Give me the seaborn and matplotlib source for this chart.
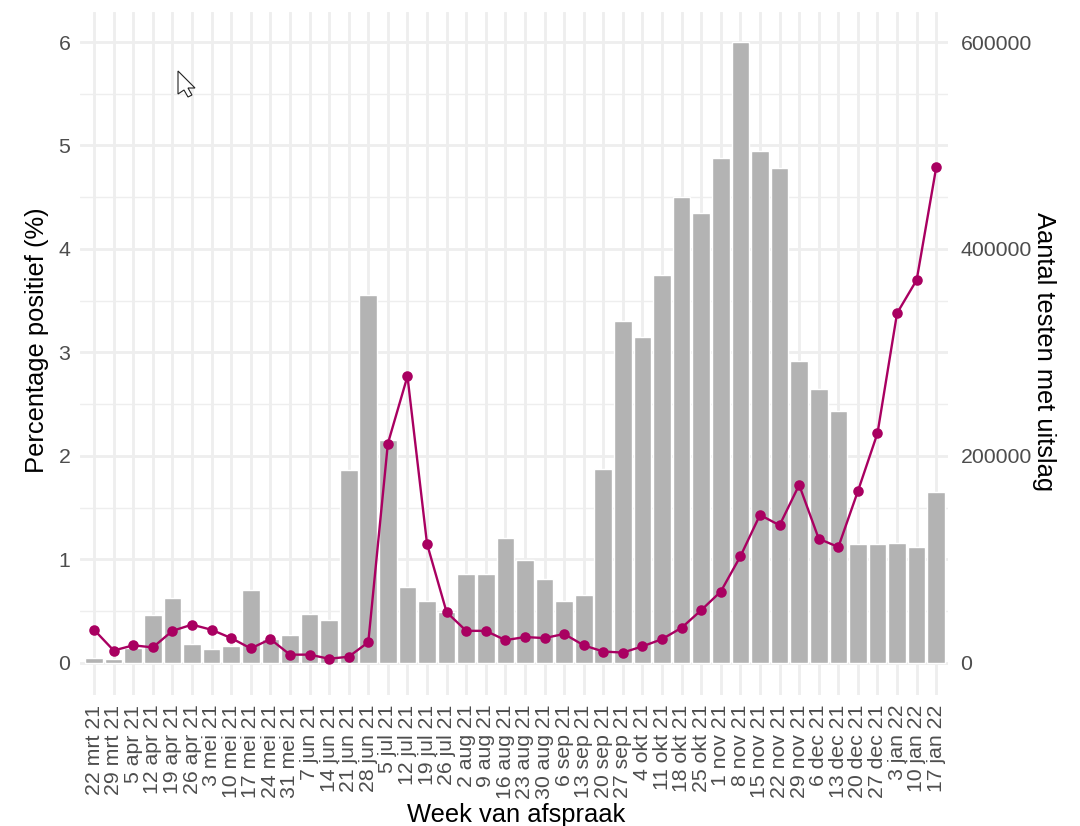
import matplotlib
matplotlib.use("Agg")
import matplotlib.pyplot as plt
from matplotlib.patches import Polygon
from matplotlib.ticker import FixedLocator, MultipleLocator
import seaborn as sns
import pandas as pd

weeks = ["22 mrt 21", "29 mrt 21", "5 apr 21", "12 apr 21", "19 apr 21", "26 apr 21",
         "3 mei 21", "10 mei 21", "17 mei 21", "24 mei 21", "31 mei 21",
         "7 jun 21", "14 jun 21", "21 jun 21", "28 jun 21",
         "5 jul 21", "12 jul 21", "19 jul 21", "26 jul 21",
         "2 aug 21", "9 aug 21", "16 aug 21", "23 aug 21", "30 aug 21",
         "6 sep 21", "13 sep 21", "20 sep 21", "27 sep 21",
         "4 okt 21", "11 okt 21", "18 okt 21", "25 okt 21",
         "1 nov 21", "8 nov 21", "15 nov 21", "22 nov 21", "29 nov 21",
         "6 dec 21", "13 dec 21", "20 dec 21", "27 dec 21",
         "3 jan 22", "10 jan 22", "17 jan 22"]
tests = [5000, 4000, 14500, 46000, 62500, 17800, 13900, 16800, 70600, 23000, 26500,
         47000, 41500, 186000, 356000, 215000, 73500, 60000, 49000, 86000, 86000,
         121000, 99500, 81000, 60000, 65500, 187000, 330000, 315000, 375000, 450000,
         435000, 488000, 600000, 495000, 478000, 292000, 265000, 243000, 115000,
         115000, 116000, 112000, 165000]
pct_pos = [0.32, 0.12, 0.17, 0.15, 0.31, 0.37, 0.32, 0.24, 0.14, 0.23, 0.08,
           0.08, 0.04, 0.06, 0.20, 2.12, 2.77, 1.15, 0.49, 0.31, 0.31,
           0.22, 0.25, 0.24, 0.28, 0.17, 0.11, 0.10, 0.16, 0.23, 0.34,
           0.51, 0.69, 1.03, 1.43, 1.33, 1.72, 1.20, 1.12, 1.66,
           2.22, 3.38, 3.70, 4.79]
test_ticks = [0, 100000, 200000, 300000, 400000, 500000, 600000]
test_labels = ["0", "", "200000", "", "400000", "", "600000"]

sns.set_theme(style="white")
plt.rcParams['font.family'] = ['Liberation Sans', 'DejaVu Sans']

df = pd.DataFrame({"week": weeks, "tests": tests, "pct": pct_pos})
W, H = 1080, 826
grey = "#4D4D4D"
grid = "#EEEEEE"
line_col = "#A90061"

fig = plt.figure(figsize=(W/100, H/100), dpi=100)
ax = fig.add_axes([80/W, 1-695/H, 868/W, 683/H])

# bars live on the axes with the grid, percent line goes on the twin above it
sns.barplot(data=df, x="week", y="tests", color="#B3B3B3", saturation=1, width=0.9, ax=ax)
ax2 = ax.twinx()
sns.lineplot(data=df, x="week", y="pct", sort=False, color=line_col, lw=1.7, marker="o",
             markersize=7.6, markeredgewidth=0, ax=ax2)

ax.set_xlim(-0.72, 43.6)
ax.set_ylim(-31000, 629000)
ax2.set_ylim(-0.31, 6.29)

ax.set_axisbelow(True)
ax.yaxis.set_major_locator(FixedLocator(test_ticks))
ax.yaxis.set_minor_locator(MultipleLocator(50000))
ax.set_yticklabels(test_labels)
ax.grid(True, which="major", color=grid, lw=2)
ax.grid(True, which="minor", axis="y", color=grid, lw=1)
ax.yaxis.tick_right()
ax.yaxis.set_label_position("right")
ax2.yaxis.tick_left()
ax2.yaxis.set_label_position("left")
ax2.set_yticks(range(7))
ax2.grid(False)

ax.tick_params(axis="x", labelrotation=90, labelsize=15.3, labelcolor=grey, length=0, pad=7)
ax.tick_params(axis="y", which="both", labelsize=15.3, labelcolor=grey, length=0, pad=9)
ax2.tick_params(axis="y", labelsize=15.3, labelcolor=grey, length=0, pad=7)
ax2.tick_params(axis="x", length=0, labelbottom=False)
for s in ["top", "right", "bottom", "left"]:
    ax.spines[s].set_visible(False)
    ax2.spines[s].set_visible(False)

ax.set_xlabel("")
ax.set_ylabel("")
ax2.set_xlabel("")
ax2.set_ylabel("")
fig.text(516/W, 1-815/H, "Week van afspraak", fontsize=18.4, color="black", ha="center", va="center")
fig.text(37/W, 1-340/H, "Percentage positief (%)", fontsize=18.4, color="black", rotation=90, ha="center", va="center")
fig.text(1044/W, 1-352/H, "Aantal testen met uitslag", fontsize=18.4, color="black", rotation=270, ha="center", va="center")

# mouse pointer that was captured in the screenshot
pointer = [(178, 71), (195, 88), (188, 88), (192, 95), (188, 97), (184, 90), (178, 94)]
fig.add_artist(Polygon([(x/W, 1-y/H) for x, y in pointer], closed=True, transform=fig.transFigure,
                       facecolor="white", edgecolor="#222222", lw=0.8))

fig.savefig("out.png", dpi=100)
